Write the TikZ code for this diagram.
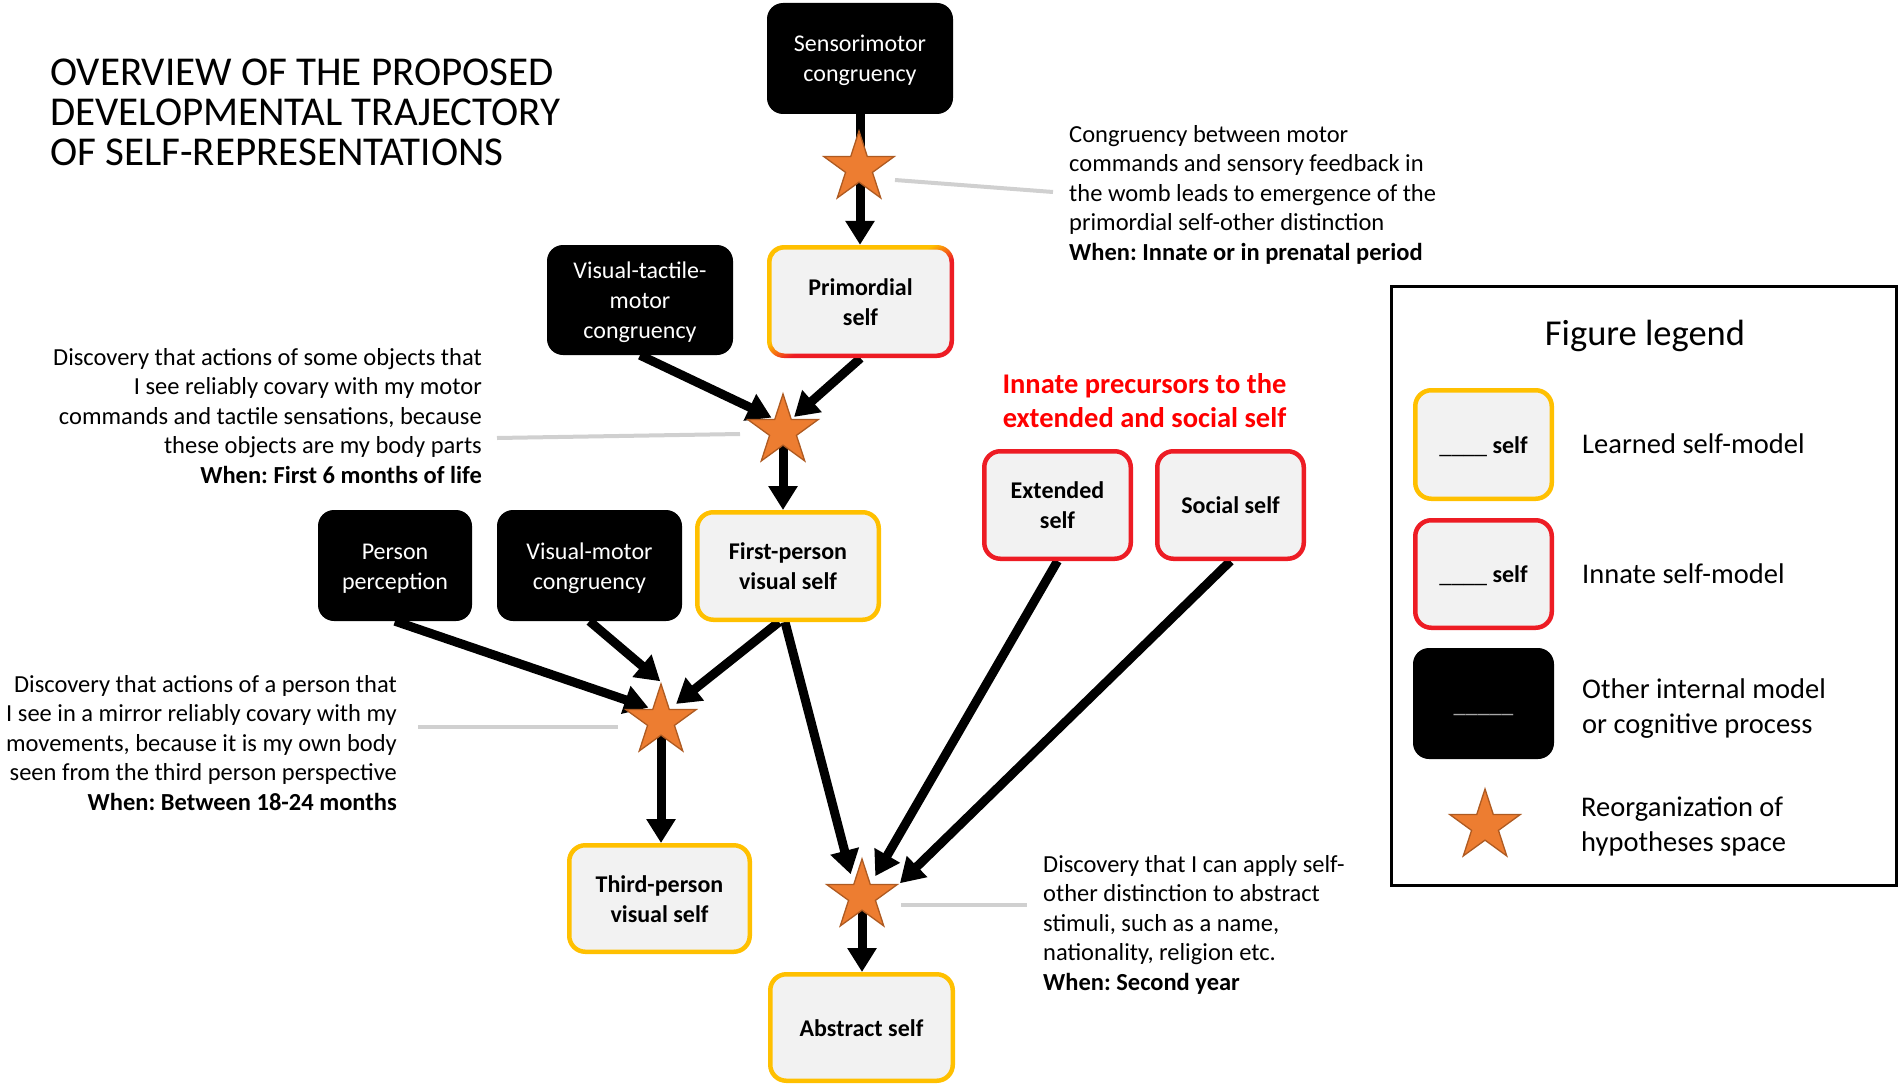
\documentclass[tikz,border=0pt]{standalone}
\usepackage{fontspec}
\setmainfont{Carlito}
\usetikzlibrary{shapes.geometric, arrows.meta}
\definecolor{byel}{HTML}{FFC000}
\definecolor{bred}{RGB}{237,28,36}
\definecolor{boxgray}{HTML}{F2F2F2}
\definecolor{starfill}{HTML}{ED7D31}
\definecolor{stardraw}{HTML}{AE5A21}
\definecolor{leadgray}{HTML}{D0D0D0}
\definecolor{ulgray}{HTML}{A6A6A6}
\definecolor{headred}{HTML}{FF0000}
\pgfdeclarelayer{bg}
\pgfdeclarelayer{paper}
\pgfsetlayers{paper,bg,main}
\pgfdeclarehorizontalshading{ybr}{100bp}{color(0bp)=(byel); color(46bp)=(byel); color(54bp)=(bred); color(100bp)=(bred)}
\newcommand\bxs{\rule[-6.5pt]{0pt}{30pt}}
\newcommand\bds{\rule[-7.5pt]{0pt}{29.5pt}}
\newcommand\tts{\rule[-10pt]{0pt}{40pt}}
\newcommand\hds{\rule[-8pt]{0pt}{34pt}}
\newcommand\lgs{\rule[-9pt]{0pt}{35pt}}
\frenchspacing
\tikzset{
 box/.style={rounded corners=16pt, inner sep=0pt, align=center, font=\fontsize{24}{30}\selectfont},
 blackbox/.style={box, fill=black, text=white},
 learned/.style={box, draw=byel, line width=4.5pt, fill=boxgray, font=\bfseries\fontsize{24}{30}\selectfont},
 innate/.style={box, draw=bred, line width=4.5pt, fill=boxgray, font=\bfseries\fontsize{24}{30}\selectfont},
 reorg/.style={star, star points=5, star point ratio=2.618, minimum size=74pt, inner sep=0pt, fill=starfill, draw=stardraw, line width=1.3pt},
 flow/.style={line width=9pt, -{Triangle[width=28pt,length=24pt]}},
 lead/.style={leadgray, line width=4pt},
 body/.style={inner sep=0pt, font=\fontsize{24.5}{29.5}\selectfont},
 lglabel/.style={inner sep=0pt, align=left, font=\fontsize{28.5}{35}\selectfont},
}
\begin{document}
\begin{tikzpicture}[x=1pt,y=-1pt]
\useasboundingbox (0,0) rectangle (1902,1089);
\begin{pgfonlayer}{paper}
\fill[white] (0,0) rectangle (1902,1089);
\end{pgfonlayer}

% title
\node[anchor=north west, inner sep=0pt, align=left, font=\fontsize{41}{40}\selectfont] (title) at (50,55)
 {\tts OVERVIEW OF THE PROPOSED\\\tts DEVELOPMENTAL TRAJECTORY\\\tts OF SELF-REPRESENTATIONS};

% boxes
\node[blackbox, minimum width=186pt, minimum height=111pt] (sens) at (860,58.5) {\bxs Sensorimotor\\\bxs congruency};
\shade[shading=ybr, shading angle=-59, rounded corners=17pt] (767,245) rectangle (954,358);
\fill[boxgray, rounded corners=13pt] (771.5,249.5) rectangle (949.5,353.5);
\node[box, font=\bfseries\fontsize{24}{30}\selectfont, minimum width=187pt, minimum height=113pt] (prim) at (860.5,301.5) {\bxs Primordial\\\bxs self};
\node[blackbox, minimum width=186pt, minimum height=110pt] (vtm) at (640,300) {\bxs Visual-tactile-\\\bxs motor\\\bxs congruency};
\node[blackbox, minimum width=154pt, minimum height=111pt] (pp) at (395,565.5) {\bxs Person\\\bxs perception};
\node[blackbox, minimum width=185pt, minimum height=111pt] (vm) at (589.5,565.5) {\bxs Visual-motor\\\bxs congruency};
\node[learned, minimum width=181.5pt, minimum height=107.5pt] (fp) at (788,566) {\bxs First-person\\\bxs visual self};
\node[innate, minimum width=146.5pt, minimum height=107.5pt] (ext) at (1057.5,505) {\bxs Extended\\\bxs self};
\node[innate, minimum width=146.5pt, minimum height=107.5pt] (soc) at (1230.5,505) {\bxs Social self};
\node[learned, minimum width=180.5pt, minimum height=106.5pt] (tp) at (659.5,898.5) {\bxs Third-person\\\bxs visual self};
\node[learned, minimum width=182.5pt, minimum height=106.5pt] (abs) at (861.5,1027.5) {\bxs Abstract self};

% red heading
\node[anchor=north, inner sep=0pt, align=center, text=headred, font=\bfseries\fontsize{28.5}{34}\selectfont] (head) at (1144.5,367)
 {\hds Innate precursors to the\\\hds extended and social self};

% stars
\node[reorg] (s1) at (859,168) {};
\node[reorg] (s2) at (783,431) {};
\node[reorg] (s3) at (661,721) {};
\node[reorg] (s4) at (862,896) {};

% description texts
\node[body, anchor=north west, align=left] (t1) at (1069,120)
 {\bds Congruency between motor\\\bds commands and sensory feedback in\\\bds the womb leads to emergence of the\\\bds primordial self-other distinction\\\bds\textbf{When: Innate or in prenatal period}};
\node[body, anchor=north east, align=right] (t2) at (482,343)
 {\bds Discovery that actions of some objects that\\\bds I see reliably covary with my motor\\\bds commands and tactile sensations, because\\\bds these objects are my body parts\\\bds\textbf{When: First 6 months of life}};
\node[body, anchor=north east, align=right] (t3) at (397,670)
 {\bds Discovery that actions of a person that\\\bds I see in a mirror reliably covary with my\\\bds movements, because it is my own body\\\bds seen from the third person perspective\\\bds\textbf{When: Between 18-24 months}};
\node[body, anchor=north west, align=left] (t4) at (1043,850)
 {\bds Discovery that I can apply self-\\\bds other distinction to abstract\\\bds stimuli, such as a name,\\\bds nationality, religion etc.\\\bds\textbf{When: Second year}};

% leader lines
\coordinate (g1a) at (895,180); \coordinate (g1b) at (1053,192);
\coordinate (g2a) at (497,438); \coordinate (g2b) at (740,434);
\coordinate (g3a) at (418,727); \coordinate (g3b) at (618,727);
\coordinate (g4a) at (901,905); \coordinate (g4b) at (1027,905);

% legend
\node[draw, line width=3pt, minimum width=505pt, minimum height=599pt, inner sep=0pt] (legend) at (1644,586) {};
\node[anchor=base, inner sep=0pt, font=\fontsize{36.5}{44}\selectfont] (lgtitle) at (1645,345) {Figure legend};
\node[learned, minimum width=136.5pt, minimum height=108.5pt] (lg1) at (1483.5,444.5) {\bxs\mdseries\_\_\_\_ \textbf{self}};
\node[innate, minimum width=136.5pt, minimum height=107.5pt] (lg2) at (1483.5,574) {\bxs\mdseries\_\_\_\_ \textbf{self}};
\node[blackbox, minimum width=141pt, minimum height=111pt, text=ulgray] (lg3) at (1483.5,703.5) {\bxs\_\_\_\_\_};
\node[reorg] (lg4) at (1485,826) {};
\node[lglabel, anchor=base west] (l1) at (1582,453) {Learned self-model};
\node[lglabel, anchor=base west] (l2) at (1582,583) {Innate self-model};
\node[lglabel, anchor=north west] (l3) at (1582,672) {\lgs Other internal model\\\lgs or cognitive process};
\node[lglabel, anchor=north west] (l4) at (1581,790) {\lgs Reorganization of\\\lgs hypotheses space};

\begin{pgfonlayer}{bg}
\draw[lead] (g1a) -- (g1b);
\draw[lead] (g2a) -- (g2b);
\draw[lead] (g3a) -- (g3b);
\draw[lead] (g4a) -- (g4b);
\draw[flow] (sens.south) -- (sens.south |- prim.north);
\draw[flow, shorten >=3pt] (vtm.south) -- (s2.inner point 1);
\draw[flow, shorten >=3pt] (prim.south) -- (s2.inner point 5);
\draw[flow] (s2.center) -- (s2.center |- fp.north);
\draw[flow, shorten >=4pt] (pp.south) -- (s3.inner point 1);
\draw[flow, shorten >=1pt] (vm.south) -- (s3.outer point 1);
\draw[flow, shorten >=8pt] ([xshift=-9pt]fp.south) -- (s3.inner point 5);
\draw[flow] (s3.center) -- (s3.center |- tp.north);
\draw[flow, shorten >=10pt] ([xshift=-3pt]fp.south) -- (s4.inner point 1);
\draw[flow, shorten >=9pt] (ext.south) -- (s4.inner point 5);
\draw[flow, shorten >=1pt] (soc.south) -- (s4.outer point 5);
\draw[flow] (s4.center) -- (s4.center |- abs.north);
\end{pgfonlayer}
\end{tikzpicture}
\end{document}
